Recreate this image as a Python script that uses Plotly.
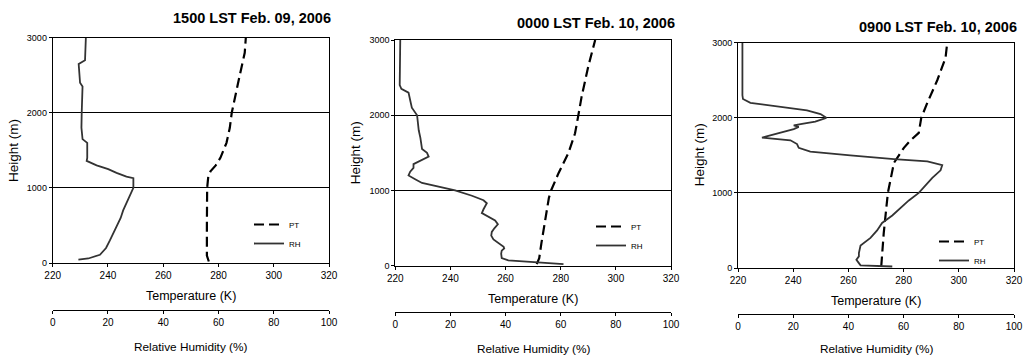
import plotly.graph_objects as go

# ---------------- data ----------------
titles = ["1500 LST Feb. 09, 2006", "0000 LST Feb. 10, 2006", "0900 LST Feb. 10, 2006"]
temp_ticks = [220, 240, 260, 280, 300, 320]
rh_ticks = [0, 20, 40, 60, 80, 100]
height_ticks = [0, 1000, 2000, 3000]

# Panel 1 : 1500 LST Feb 09
pt1_h = [20, 100, 500, 1000, 1150, 1220, 1300, 1400, 1600, 1800, 2000, 2200, 2500, 2800, 3000]
pt1_t = [276.5, 275.8, 275.8, 275.9, 276.3, 277.1, 279.0, 280.7, 282.9, 284.1, 284.8, 285.9, 287.7, 289.5, 289.9]
rh1_h = [45, 60, 110, 200, 300, 400, 500, 600, 700, 800, 900, 950, 1000, 1130, 1150, 1200, 1250,
         1300, 1340, 1360, 1400, 1600, 1650, 1800, 2000, 2200, 2350, 2400, 2650, 2700, 3000]
rh1_v = [9.3, 12.9, 17.1, 19.3, 20.7, 21.9, 23.1, 24.6, 25.5, 26.7, 28.0, 28.5, 29.2, 29.2, 26.7, 23.1, 20.1,
         15.9, 13.3, 12.3, 12.5, 12.5, 10.8, 10.4, 10.5, 10.8, 10.8, 9.9, 9.4, 11.7, 12.0]

# Panel 2 : 0000 LST Feb 10
pt2_h = [20, 100, 300, 600, 900, 1000, 1230, 1500, 1760, 2000, 2250, 2650, 3000]
pt2_t = [271.3, 272.2, 273.0, 274.3, 275.7, 276.5, 279.2, 282.8, 285.2, 286.4, 287.6, 290.0, 292.5]
rh2_h = [20, 50, 70, 100, 160, 200, 230, 250, 300, 350, 400, 450, 500, 550, 600, 650, 700, 750, 800,
         830, 870, 930, 1000, 1050, 1100, 1150, 1200, 1250, 1300, 1350, 1400, 1450, 1500, 1550, 1700,
         1800, 2000, 2100, 2200, 2300, 2350, 2400, 3000]
rh2_v = [61.0, 48.0, 41.0, 38.6, 38.4, 38.6, 39.5, 39.3, 37.4, 35.6, 34.8, 35.0, 36.0, 37.2, 36.2, 33.8,
         31.4, 32.0, 32.9, 33.2, 32.0, 27.8, 21.7, 15.7, 9.7, 7.2, 4.8, 5.4, 6.6, 6.6, 9.1, 12.1, 11.5,
         9.7, 9.1, 8.5, 7.9, 6.0, 5.4, 4.8, 2.2, 1.6, 1.8]

# Panel 3 : 0900 LST Feb 10
pt3_h = [20, 465, 1000, 1400, 1500, 1600, 1700, 1800, 2000, 2200, 2500, 2800, 3000]
pt3_t = [271.9, 272.8, 274.3, 276.5, 278.3, 280.1, 282.5, 285.5, 286.4, 288.6, 292.2, 295.2, 295.8]
rh3_h = [20, 35, 65, 110, 155, 200, 300, 350, 400, 500, 600, 700, 800, 900, 1000, 1100, 1200, 1300,
         1370, 1420, 1450, 1500, 1550, 1600, 1650, 1700, 1720, 1735, 1750, 1800, 1850, 1880, 1900,
         1920, 1950, 2000, 2050, 2100, 2150, 2200, 2250, 2300, 3000]
rh3_v = [55.9, 44.4, 43.8, 42.9, 43.8, 43.8, 44.4, 46.2, 48.0, 50.4, 52.2, 55.9, 58.9, 61.9, 65.5, 68.0,
         70.4, 73.4, 74.0, 68.6, 56.5, 40.7, 26.2, 22.0, 21.4, 19.0, 11.7, 8.7, 10.0, 15.4, 20.2, 22.0,
         20.2, 23.2, 28.0, 32.0, 29.9, 25.0, 14.1, 4.5, 1.8, 1.6, 1.6]

pts = [(pt1_t, pt1_h), (pt2_t, pt2_h), (pt3_t, pt3_h)]
rhs = [(rh1_v, rh1_h), (rh2_v, rh2_h), (rh3_v, rh3_h)]

# ---------------- layout geometry (pixels) ----------------
W, H = 1026, 356
panels = [  # left, right, top, bottom, rh-axis y, legend top
    (52.7, 329.0, 37.7, 263.0, 310.0, 210.0),
    (395.3, 671.0, 40.0, 265.7, 311.7, 212.0),
    (738.0, 1014.0, 42.7, 268.0, 314.0, 227.0),
]
title_pos = [(333, 18), (677, 23), (1019, 27)]
FONT = "Liberation Sans, Arial, sans-serif"

def px(x):
    return x / W

def py(y):
    return 1 - y / H

fig = go.Figure()
layout = dict(
    width=W, height=H,
    margin=dict(l=0, r=0, t=0, b=0, pad=0, autoexpand=False),
    paper_bgcolor="white", plot_bgcolor="white",
    font=dict(family=FONT, color="black", size=9),
)
annotations = []

for i in range(3):
    L, R, T, B, RY, LT = panels[i]
    xa = f"x{2*i+1}" if i > 0 else "x"
    xb = f"x{2*i+2}"
    ya = f"y{i+1}" if i > 0 else "y"
    xkey = "xaxis" if i == 0 else f"xaxis{2*i+1}"
    xbkey = f"xaxis{2*i+2}"
    ykey = "yaxis" if i == 0 else f"yaxis{i+1}"
    leg = "legend" if i == 0 else f"legend{i+1}"

    layout[xkey] = dict(
        domain=[px(L), px(R)], anchor=ya, range=[220, 320], tickvals=temp_ticks,
        showline=True, linecolor="black", linewidth=1, mirror=True, automargin=False,
        ticks="outside", ticklen=3, tickcolor="black", showgrid=False, zeroline=False,
        tickfont=dict(size=10, family=FONT),
    )
    layout[xbkey] = dict(
        overlaying=xa, anchor="free", position=py(RY), side="bottom", automargin=False,
        range=[0, 100], tickvals=rh_ticks,
        showline=True, linecolor="black", linewidth=1,
        ticks="outside", ticklen=3, tickcolor="black", showgrid=False, zeroline=False,
        tickfont=dict(size=10, family=FONT),
    )
    layout[ykey] = dict(
        domain=[py(B), py(T)], anchor=xa, range=[0, 3000], tickvals=height_ticks,
        showline=True, linecolor="black", linewidth=1, mirror=True, automargin=False,
        ticks="outside", ticklen=3, tickcolor="black",
        showgrid=True, gridcolor="black", gridwidth=1, zeroline=False,
        tickfont=dict(size=9, family=FONT),
    )
    layout[leg] = dict(
        x=px(R - 80), y=py(LT), xanchor="left", yanchor="top",
        bgcolor="rgba(0,0,0,0)", borderwidth=0,
        font=dict(size=8, family=FONT), tracegroupgap=0, itemwidth=30,
    )

    fig.add_trace(go.Scatter(
        x=pts[i][0], y=pts[i][1], xaxis=xa, yaxis=ya, mode="lines", name="PT",
        line=dict(color="black", width=2.2, dash="10px,5px"), legend=leg,
    ))
    fig.add_trace(go.Scatter(
        x=rhs[i][0], y=rhs[i][1], xaxis=xb, yaxis=ya, mode="lines", name="RH",
        line=dict(color="#333333", width=1.8), legend=leg,
    ))

    tx, ty = title_pos[i]
    annotations.append(dict(text=f"<b>{titles[i]}</b>", x=px(tx), y=py(ty), xref="paper", yref="paper",
                            xanchor="right", yanchor="middle", showarrow=False,
                            font=dict(size=14.5, family=FONT)))
    annotations.append(dict(text="Height (m)", x=px(L - 39), y=py((T + B) / 2), xref="paper", yref="paper",
                            xanchor="center", yanchor="middle", textangle=-90, showarrow=False,
                            font=dict(size=13.5, family=FONT)))
    annotations.append(dict(text="Temperature (K)", x=px((L + R) / 2), y=py(B + 33), xref="paper",
                            yref="paper", xanchor="center", yanchor="middle", showarrow=False,
                            font=dict(size=12.5, family=FONT)))
    annotations.append(dict(text="Relative Humidity (%)", x=px((L + R) / 2), y=py(min(RY + 37, H - 7)),
                            xref="paper", yref="paper", xanchor="center", yanchor="middle",
                            showarrow=False, font=dict(size=11.8, family=FONT)))

layout["annotations"] = annotations
layout["showlegend"] = True
fig.update_layout(**layout)
fig.write_html("out.html", config={"displayModeBar": False},
               post_script="document.body.style.margin='0px';document.body.style.overflow='hidden';")
